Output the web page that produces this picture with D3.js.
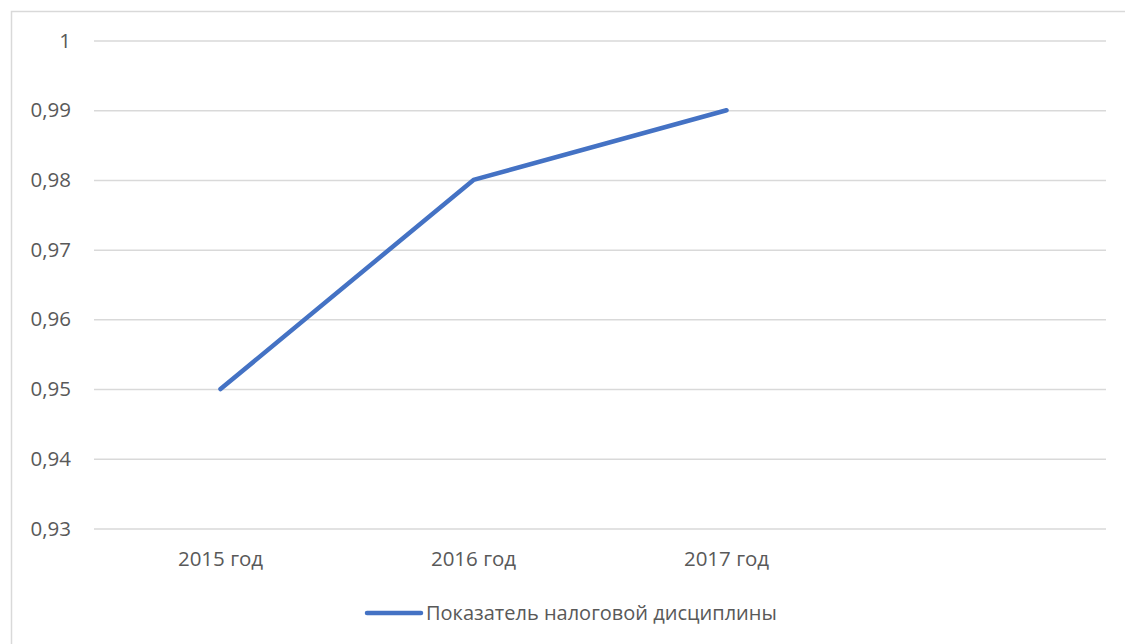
<!DOCTYPE html>
<html>
<head>
<meta charset="utf-8">
<script src="https://cdn.jsdelivr.net/npm/d3@7"></script>
<style>
  body { margin: 0; background: #fff; }
  svg text { font-family: "Open Sans", "Noto Sans", sans-serif; fill: #595959; }
</style>
</head>
<body>
<div id="chart"></div>
<script>
// data
const categories = ["2015 год", "2016 год", "2017 год", " "];
const values = [0.95, 0.98, 0.99];
const yTicks = [0.93, 0.94, 0.95, 0.96, 0.97, 0.98, 0.99, 1];
const seriesName = "Показатель налоговой дисциплины";

const width = 1125, height = 644;
const margin = { top: 40.5, right: 19, bottom: 115.5, left: 94 };

const svg = d3.select("#chart").append("svg")
    .attr("width", width)
    .attr("height", height);

// outer chart border (right/bottom fall off the image)
svg.append("rect")
    .attr("x", 11.5).attr("y", 11.5)
    .attr("width", width + 20).attr("height", height + 20)
    .attr("fill", "none")
    .attr("stroke", "#d9d9d9")
    .attr("stroke-width", 1.5);

const x = d3.scaleBand()
    .domain(categories)
    .range([margin.left, width - margin.right]);

const y = d3.scaleLinear()
    .domain([0.93, 1])
    .range([height - margin.bottom, margin.top]);

const ru = d3.formatLocale({ decimal: ",", thousands: " ", grouping: [3], currency: ["", ""] });
const fmt = v => v === 1 ? "1" : ru.format(".2f")(v);

// gridlines + y labels
const yAxis = svg.append("g")
    .attr("transform", `translate(${margin.left},0)`)
    .call(d3.axisLeft(y).tickValues(yTicks).tickFormat(fmt)
        .tickSize(-(width - margin.left - margin.right)).tickPadding(23));
yAxis.select(".domain").remove();
yAxis.selectAll("line").attr("stroke", "#d9d9d9").attr("stroke-width", 1.5);
yAxis.selectAll("text").attr("font-size", 20.5).style("fill", "#595959");

// x labels
const xAxis = svg.append("g")
    .attr("transform", `translate(0,${height - margin.bottom})`)
    .call(d3.axisBottom(x).tickSize(0).tickPadding(23));
xAxis.select(".domain").remove();
xAxis.selectAll("text").attr("font-size", 20.5).style("fill", "#595959");

// line
const line = d3.line()
    .x((d, i) => x(categories[i]) + x.bandwidth() / 2)
    .y(d => y(d));

svg.append("path")
    .datum(values)
    .attr("fill", "none")
    .attr("stroke", "#4472c4")
    .attr("stroke-width", 4.5)
    .attr("stroke-linecap", "round")
    .attr("stroke-linejoin", "round")
    .attr("d", line);

// legend
const legend = svg.append("g").attr("transform", "translate(367,613)");
legend.append("line")
    .attr("x1", 0).attr("x2", 54)
    .attr("stroke", "#4472c4")
    .attr("stroke-width", 4.5)
    .attr("stroke-linecap", "round");
legend.append("text")
    .attr("x", 59).attr("y", 0)
    .attr("dy", "0.35em")
    .attr("font-size", 20)
    .text(seriesName);
</script>
</body>
</html>
